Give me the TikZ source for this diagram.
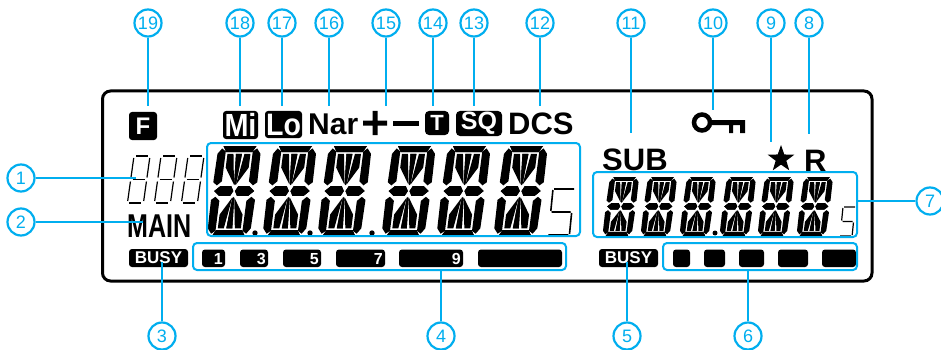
\documentclass[tikz,border=0pt]{standalone}
\usepackage{fontspec}
\setmainfont{Liberation Sans}
\usetikzlibrary{shapes.geometric}
\definecolor{cy}{HTML}{00AEEF}
\newcommand{\quarterseg}{%
  \fill (-16.5,-46)--(16.5,-46)--(13,-39.8)--(-13,-39.8)--cycle;
  \fill (-21.5,-38)--(-17.5,-43.5)--(-13.5,-40.5)--(-13.5,-10)--(-18,-5.8)--(-22,-9)--cycle;
  \fill (-20,0)--(-14.5,-5)--(-3.5,-5)--(-0.8,0)--(-3.5,5)--(-14.5,5)--cycle;
  \fill (-3,-38)--(3,-38)--(1,-8)--(0,-6)--(-1,-8)--cycle;
  \fill (-11.5,-38)--(-5.5,-38)--(-1,-6.5)--(-11.5,-24)--cycle;
}
\newcommand{\bigglyph}[5]{%
 \begin{scope}[shift={(#1,#2)},xslant=#5,xscale=#3,yscale=#4]
  \begin{scope}[shift={(20,46)}]
   \foreach \sx/\sy in {1/1,-1/1,1/-1,-1/-1}{
    \begin{scope}[xscale=\sx,yscale=\sy]\quarterseg\end{scope}}
  \end{scope}
 \end{scope}}
\newcommand{\thineight}[4]{%
 \begin{scope}[shift={(#1,#2)},xslant=0.14,line width=1.2pt]
  \draw (2,0)--(#3-2,0) (2,#4/2)--(#3-2,#4/2) (2,#4)--(#3-2,#4);
  \draw (0,2)--(0,#4/2-2) (#3,2)--(#3,#4/2-2) (0,#4/2+2)--(0,#4-2) (#3,#4/2+2)--(#3,#4-2);
 \end{scope}}
\newcommand{\thinfive}[5]{%
 \begin{scope}[shift={(#1,#2)},xslant=0.1,line width=#5]
  \draw (1,0)--(#3,0) (0,1)--(0,#4/2-1) (1,#4/2)--(#3-1,#4/2) (#3,#4/2+1)--(#3,#4-1) (0,#4)--(#3-1,#4);
 \end{scope}}
\tikzset{
  num/.style={circle,draw=cy,line width=2.2pt,minimum size=27pt,inner sep=0pt,text=cy,fill=white,font=\fontsize{18}{18}\selectfont},
  lead/.style={draw=cy,line width=2pt},
  bluebox/.style={draw=cy,line width=2pt,rounded corners=4pt,inner sep=0pt},
  tag/.style={fill=black,rounded corners=3pt,inner sep=0pt,text=white,font=\bfseries\fontsize{17}{17}\selectfont},
  bar/.style={fill=black,rounded corners=3pt},
  barnum/.style={text=white,anchor=base east,inner sep=0pt,font=\bfseries\fontsize{16}{16}\selectfont},
  lab/.style={anchor=base west,inner sep=0pt,font=\bfseries\fontsize{31}{31}\selectfont},
  panel/.style={draw=black,line width=3pt,rounded corners=8pt}
}
\begin{document}
\begin{tikzpicture}[x=1pt,y=-1pt]
\useasboundingbox (0,0) rectangle (941,350);
\fill[white] (0,0) rectangle (941,350);
% panel
\draw[panel] (102.5,91) rectangle (872,281);
% main digits
\foreach \x in {220,275.5,330.5,394.5,449.5,506.5}{\bigglyph{\x}{146}{1}{0.98}{0.13}}
\foreach \x in {255,310,372}{\fill (\x,233) circle (2.7);}
\thinfive{553}{189}{21}{46}{1.6pt}
% sub digits
\foreach \x in {611,649,688,728,766,805}{\bigglyph{\x}{177}{0.68}{0.64}{0.13}}
\fill (715,233) circle (2.5);
\thinfive{843}{207}{12}{29}{1.2pt}
% 888
\foreach \x in {134,161,188}{\thineight{\x}{156}{16}{47}}
% icons
\node[fill=black,rounded corners=3pt,minimum width=28pt,minimum height=28pt,inner sep=0pt,text=white,font=\bfseries\fontsize{24}{24}\selectfont] (iF) at (143,126) {F};
\node[fill=black,rounded corners=3pt,minimum width=35pt,minimum height=28pt,inner sep=0pt] (iMi) at (240.5,125) {};
\node[text=white,inner sep=0pt,font=\bfseries\fontsize{32}{32}\selectfont,xscale=0.9,transform shape] (tMi) at (iMi) {Mi};
\node[fill=black,rounded corners=3pt,minimum width=37pt,minimum height=27pt,inner sep=0pt] (iLo) at (283.5,124.5) {};
\node[text=white,inner sep=0pt,font=\bfseries\fontsize{31}{31}\selectfont,xscale=0.92,transform shape] (tLo) at (iLo) {Lo};
\node[anchor=base west,inner sep=0pt,font=\bfseries\fontsize{30}{30}\selectfont] (iNar) at (308,135) {Nar};
\fill (363,120.5) rectangle (387,125.5) (372.5,111) rectangle (377.5,135);
\fill (393,120.5) rectangle (419,125.5);
\node[fill=black,rounded corners=4pt,minimum width=24pt,minimum height=24pt,inner sep=0pt,text=white,font=\bfseries\fontsize{22}{22}\selectfont] (iT) at (437,123) {T};
\node[fill=black,rounded corners=4pt,minimum width=46pt,minimum height=25pt,inner sep=0pt,text=white,font=\bfseries\fontsize{25}{25}\selectfont] (iSQ) at (479,123.5) {SQ};
\node[lab] (iDCS) at (508,135) {DCS};
\node[lab] (iSUB) at (602,170) {SUB};
\node[lab] (iR) at (804,171) {R};
\node[star,star points=5,star point ratio=2.5,fill=black,minimum size=28pt,inner sep=0pt] (iStar) at (781,159) {};
% key
\draw[line width=4.5pt] (702,122.5) circle (8);
\fill (712,120) rectangle (745,125) (729,125) rectangle (733,133) (740,125) rectangle (745,133);
% main label
\node[anchor=base west,inner sep=0pt,font=\bfseries\fontsize{33}{33}\selectfont,xscale=0.76,transform shape] (iMAIN) at (127,237) {MAIN};
% busy tags
\node[tag,minimum width=59pt,minimum height=18pt] (busyA) at (158.5,258) {BUSY};
\node[tag,minimum width=59pt,minimum height=18pt] (busyB) at (628.5,258) {BUSY};
% bars
\fill[bar] (202,249.5) rectangle (225,267);
\fill[bar] (240,249.5) rectangle (268,267);
\fill[bar] (283,249.5) rectangle (321,267);
\fill[bar] (336,249.5) rectangle (385,267);
\fill[bar] (399,249.5) rectangle (463,267);
\fill[bar] (478,249.5) rectangle (562,267);
\node[barnum] (n1) at (223,264) {1};
\node[barnum] (n3) at (266,264) {3};
\node[barnum] (n5) at (319,264) {5};
\node[barnum] (n7) at (383,264) {7};
\node[barnum] (n9) at (461,264) {9};
\fill[bar] (673,249.5) rectangle (690,267);
\fill[bar] (704,249.5) rectangle (725,267);
\fill[bar] (739,249.5) rectangle (764,267);
\fill[bar] (778,249.5) rectangle (808,267);
\fill[bar] (822,249.5) rectangle (856,267);
% blue boxes
\node[bluebox,minimum width=373pt,minimum height=93pt] (bMain) at (393.5,189.5) {};
\node[bluebox,minimum width=264pt,minimum height=65pt] (bSub) at (725,204.5) {};
\node[bluebox,minimum width=373pt,minimum height=27pt] (bBarA) at (379.5,256.5) {};
\node[bluebox,minimum width=194pt,minimum height=27pt] (bBarB) at (760,256.5) {};
% numbered circles
\foreach \n/\x/\y in {19/148/23,18/240/23,17/282/23,16/329/23,15/386/23,14/433/23,13/474/23,12/540/23,11/631/23,10/713/23,9/771/23,8/809/23,1/21/178,2/21/222,3/162/336,4/441/336,5/627/336,6/748/336,7/930/201}{
  \node[num] (c\n) at (\x,\y) {\n};
}
% free ends
\foreach \n/\x/\y in {19/148/106,18/240/106,17/282/106,16/329/106,15/386/106,14/433/106,13/474/106,12/540/106,11/631/133,10/713/110,9/771/142,8/809/134,1/136/178,2/143/222,3/162/262,5/627/262}{
  \coordinate (e\n) at (\x,\y);
  \draw[lead] (c\n) -- (e\n);
}
\draw[lead] (c4) -- (c4 |- bBarA.south);
\draw[lead] (c6) -- (c6 |- bBarB.south);
\draw[lead] (c7) -- (c7 -| bSub.east);
\end{tikzpicture}
\end{document}
